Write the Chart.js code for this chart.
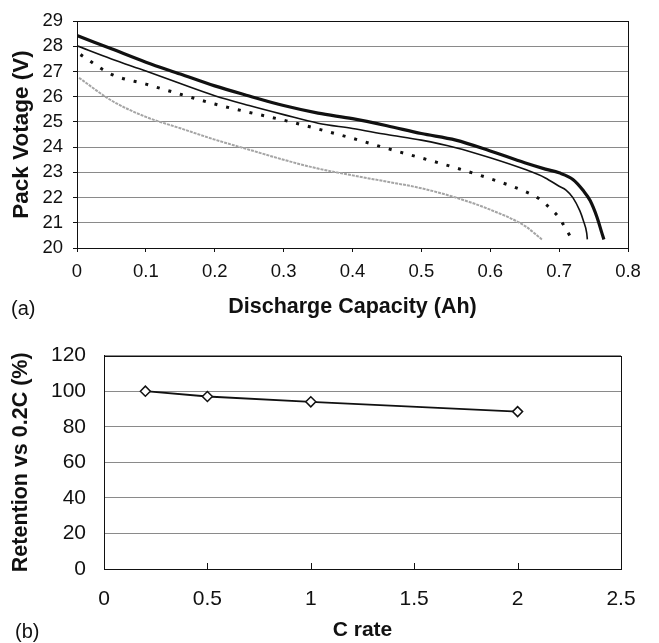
<!DOCTYPE html>
<html><head><meta charset="utf-8">
<script src="https://cdn.jsdelivr.net/npm/chart.js@4"></script>
<style>
html,body{margin:0;padding:0;background:#fff;width:659px;height:643px;overflow:hidden;}
#wrap{position:relative;width:659px;height:643px;}
canvas{position:absolute;left:0;}
.lab{position:absolute;font-family:"Liberation Sans",Arial,sans-serif;font-size:20px;color:#111;line-height:1;}
</style></head><body>
<div id="wrap">
<canvas id="c1" width="659" height="322" style="top:0;width:659px;height:322px"></canvas>
<canvas id="c2" width="659" height="318" style="top:325px;width:659px;height:318px"></canvas>
<div class="lab" style="left:11px;top:298px">(a)</div>
<div class="lab" style="left:15px;top:621px">(b)</div>
</div>
<script>
// ---- Chart (a): discharge curves ----
const cap1 = [0, 0.05, 0.1, 0.15, 0.2, 0.25, 0.3, 0.35, 0.4, 0.45, 0.5, 0.55, 0.6, 0.65, 0.68, 0.7, 0.72, 0.735, 0.745, 0.755, 0.762, 0.765];
const volt1 = [28.43, 27.9, 27.37, 26.9, 26.43, 26.03, 25.65, 25.35, 25.13, 24.85, 24.54, 24.28, 23.85, 23.38, 23.13, 22.98, 22.72, 22.28, 21.88, 21.22, 20.6, 20.34];
const cap2 = [0, 0.05, 0.1, 0.15, 0.2, 0.25, 0.3, 0.35, 0.4, 0.45, 0.5, 0.55, 0.6, 0.65, 0.68, 0.7, 0.71, 0.72, 0.73, 0.735, 0.74, 0.741];
const volt2 = [28.02, 27.5, 27.02, 26.52, 26.04, 25.65, 25.29, 24.95, 24.74, 24.5, 24.28, 23.98, 23.58, 23.12, 22.78, 22.45, 22.3, 22.0, 21.48, 21.1, 20.6, 20.34];
const cap3 = [0.005, 0.05, 0.1, 0.15, 0.2, 0.25, 0.3, 0.35, 0.4, 0.45, 0.5, 0.55, 0.6, 0.65, 0.67, 0.69, 0.7, 0.71, 0.7187];
const volt3 = [27.67, 26.89, 26.5, 26.1, 25.71, 25.38, 25.07, 24.72, 24.35, 23.95, 23.57, 23.18, 22.75, 22.25, 21.97, 21.5, 21.2, 20.75, 20.34];
const cap4 = [0.003, 0.05, 0.1, 0.15, 0.2, 0.25, 0.3, 0.35, 0.4, 0.45, 0.5, 0.55, 0.6, 0.65, 0.675];
const volt4 = [26.75, 25.85, 25.2, 24.75, 24.3, 23.9, 23.5, 23.15, 22.88, 22.63, 22.37, 22.0, 21.52, 20.88, 20.34];

// ---- Chart (b): retention ----
const cRates = [0.2, 0.5, 1, 2];
const retention = [100, 97, 94, 88.5];

const FONT = '"Liberation Sans", Arial, Helvetica, sans-serif';
const pts = (xs, ys) => xs.map((x, i) => ({x: x, y: ys[i]}));
const plain = (v) => String(Math.round(v * 1000) / 1000);

const boxPlugin = {
  id: 'box',
  beforeDatasetsDraw(chart, args, opts) {
    const {ctx, chartArea: a} = chart;
    ctx.save();
    ctx.strokeStyle = '#111';
    ctx.lineWidth = 1;
    ctx.strokeRect(Math.round(a.left) + 0.5, Math.round(a.top) + 0.5, Math.round(a.right - a.left), Math.round(a.bottom - a.top));
    if (opts && opts.inTicks) {
      const sx = chart.scales.x;
      ctx.beginPath();
      sx.ticks.forEach((t, i) => {
        const px = Math.round(sx.getPixelForTick(i)) + 0.5;
        ctx.moveTo(px, a.bottom);
        ctx.lineTo(px, a.bottom - opts.inTicks);
      });
      ctx.stroke();
    }
    ctx.restore();
  }
};

new Chart(document.getElementById('c1'), {
  type: 'line',
  data: {
    datasets: [
      {data: pts(cap1, volt1), borderColor: '#111', borderWidth: 3.2},
      {data: pts(cap2, volt2), borderColor: '#111', borderWidth: 1.6},
      {data: pts(cap3, volt3), borderColor: '#111', borderWidth: 3, borderDash: [3, 9], borderCapStyle: 'butt'},
      {data: pts(cap4, volt4), borderColor: '#a5a5a5', borderWidth: 2, borderDash: [3, 1]}
    ]
  },
  options: {
    responsive: false, animation: false, devicePixelRatio: 1,
    layout: {padding: {top: 17, right: 31, left: 0, bottom: 0}},
    elements: {point: {radius: 0}, line: {cubicInterpolationMode: 'monotone'}},
    plugins: {legend: {display: false}, tooltip: {enabled: false}, box: {}},
    scales: {
      x: {
        type: 'linear', min: 0, max: 0.8,
        ticks: {stepSize: 0.1, color: '#111', padding: 9, font: {family: FONT, size: 18.5}, maxRotation: 0, callback: plain},
        grid: {drawOnChartArea: false, drawTicks: true, tickLength: 4, tickColor: '#111'},
        border: {color: '#111', width: 1},
        title: {display: true, text: 'Discharge Capacity (Ah)', color: '#111', font: {family: FONT, size: 21.5, weight: 'bold'}, padding: {top: 0, bottom: 2}},
        afterFit(s) { s.height = 74; }
      },
      y: {
        min: 20, max: 29,
        ticks: {stepSize: 1, color: '#111', padding: 10, font: {family: FONT, size: 18.5}},
        grid: {color: '#8a8a8a', drawTicks: true, tickLength: 4, tickColor: '#111'},
        border: {color: '#111', width: 1},
        title: {display: true, text: 'Pack Votage (V)', color: '#111', font: {family: FONT, size: 22.5, weight: 'bold'}, padding: {top: 8, bottom: 0}},
        afterFit(s) { s.width = 77; }
      }
    }
  },
  plugins: [boxPlugin]
});

new Chart(document.getElementById('c2'), {
  type: 'line',
  data: {
    datasets: [{
      data: pts(cRates, retention),
      borderColor: '#111', borderWidth: 1.8,
      pointStyle: 'rectRot', pointRadius: 5, pointBackgroundColor: '#fff',
      pointBorderColor: '#111', pointBorderWidth: 1.5, tension: 0
    }]
  },
  options: {
    responsive: false, animation: false, devicePixelRatio: 1,
    layout: {padding: {top: 29, right: 38, left: 0, bottom: 0}},
    plugins: {legend: {display: false}, tooltip: {enabled: false}, box: {inTicks: 6}},
    scales: {
      x: {
        type: 'linear', min: 0, max: 2.5,
        ticks: {stepSize: 0.5, color: '#111', padding: 18, font: {family: FONT, size: 21}, maxRotation: 0, callback: plain},
        grid: {display: false, drawTicks: false},
        border: {color: '#111', width: 1},
        title: {display: true, text: 'C rate', color: '#111', font: {family: FONT, size: 21, weight: 'bold'}, padding: {top: 0, bottom: 0}},
        afterFit(s) { s.height = 74; }
      },
      y: {
        min: 0, max: 120,
        ticks: {stepSize: 20, color: '#111', padding: 18, font: {family: FONT, size: 21}, callback: plain},
        grid: {color: '#8a8a8a', drawTicks: false},
        border: {color: '#111', width: 1},
        title: {display: true, text: 'Retention vs 0.2C (%)', color: '#111', font: {family: FONT, size: 21.5, weight: 'bold'}, padding: {top: 8, bottom: 0}},
        afterFit(s) { s.width = 104; }
      }
    }
  },
  plugins: [boxPlugin]
});
</script>
</body></html>
